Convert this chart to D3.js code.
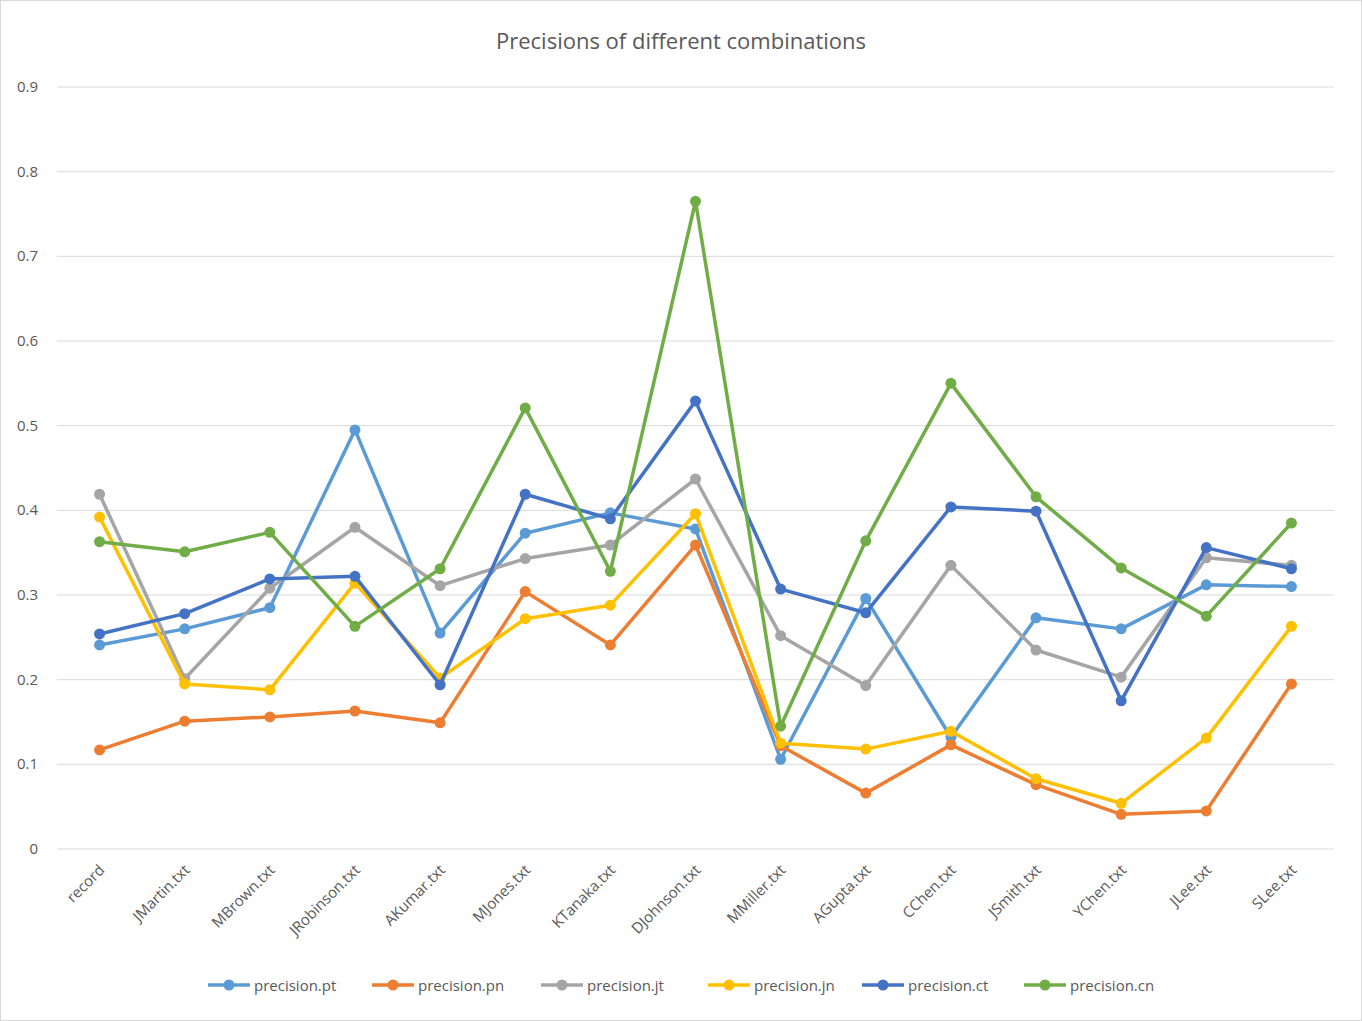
<!DOCTYPE html>
<html>
<head>
<script src="https://cdn.jsdelivr.net/npm/d3@7"></script>
<style>
  body { margin: 0; background: #fff; }
  text { font-family: "Open Sans", sans-serif; fill: #595959; }
</style>
</head>
<body>
<svg id="chart" width="1362" height="1021"></svg>
<script>
var categories = ["record","JMartin.txt","MBrown.txt","JRobinson.txt","AKumar.txt","MJones.txt","KTanaka.txt","DJohnson.txt","MMiller.txt","AGupta.txt","CChen.txt","JSmith.txt","YChen.txt","JLee.txt","SLee.txt"];
var seriesNames = ["precision.pt","precision.pn","precision.jt","precision.jn","precision.ct","precision.cn"];
var seriesColors = ["#5B9BD5","#ED7D31","#A5A5A5","#FFC000","#4472C4","#70AD47"];
var pt = [0.241,0.26,0.285,0.495,0.255,0.373,0.397,0.378,0.106,0.296,0.132,0.273,0.26,0.312,0.31];
var pn = [0.117,0.151,0.156,0.163,0.149,0.304,0.241,0.359,0.122,0.066,0.123,0.076,0.041,0.045,0.195];
var jt = [0.419,0.201,0.308,0.38,0.311,0.343,0.359,0.437,0.252,0.193,0.335,0.235,0.203,0.344,0.335];
var jn = [0.392,0.195,0.188,0.314,0.202,0.272,0.288,0.396,0.125,0.118,0.139,0.083,0.054,0.131,0.263];
var ct = [0.254,0.278,0.319,0.322,0.194,0.419,0.39,0.529,0.307,0.279,0.404,0.399,0.175,0.356,0.331];
var cn = [0.363,0.351,0.374,0.263,0.331,0.521,0.328,0.765,0.145,0.364,0.55,0.416,0.332,0.275,0.385];
var yTicks = [0,0.1,0.2,0.3,0.4,0.5,0.6,0.7,0.8,0.9];
var allSeries = [pt,pn,jt,jn,ct,cn];

var svg = d3.select("#chart");
svg.append("rect").attr("x",0.5).attr("y",0.5).attr("width",1361).attr("height",1020)
  .attr("fill","#fff").attr("stroke","#d9d9d9");

var plotL = 57, plotR = 1334, plotT = 87, plotB = 849;
var x = d3.scalePoint().domain(categories).range([plotL, plotR]).padding(0.5);
var y = d3.scaleLinear().domain([0, 0.9]).range([plotB, plotT]);

svg.append("text").attr("x",681).attr("y",49).attr("text-anchor","middle")
  .style("font-size","22px").text("Precisions of different combinations");

// grid
svg.append("g").selectAll("line").data(yTicks).join("line")
  .attr("x1",plotL).attr("x2",plotR)
  .attr("y1",d=>y(d)).attr("y2",d=>y(d))
  .attr("stroke","#d9d9d9").attr("stroke-width",1);

svg.append("g").selectAll("text").data(yTicks).join("text")
  .attr("x",38).attr("y",d=>y(d)+5).attr("text-anchor","end")
  .style("font-size","15px").text(d=>+d.toFixed(1));

svg.append("g").selectAll("text").data(categories).join("text")
  .attr("text-anchor","end").style("font-size","15px")
  .attr("transform",d=>"translate("+(x(d)+6)+","+(plotB+22)+") rotate(-45)")
  .text(d=>d);

var line = d3.line().x((d,i)=>x(categories[i])).y(d=>y(d));
allSeries.forEach(function(s, k){
  var g = svg.append("g");
  g.append("path").datum(s).attr("d",line).attr("fill","none")
    .attr("stroke",seriesColors[k]).attr("stroke-width",3.5).attr("stroke-linejoin","round");
  g.selectAll("circle").data(s).join("circle")
    .attr("cx",(d,i)=>x(categories[i])).attr("cy",d=>y(d)).attr("r",5.5)
    .attr("fill",seriesColors[k]);
});

// legend
var legX = [208,372,541,708,862,1024];
seriesNames.forEach(function(n,k){
  var g = svg.append("g").attr("transform","translate("+legX[k]+",985)");
  g.append("line").attr("x1",0).attr("x2",42).attr("stroke",seriesColors[k]).attr("stroke-width",3.5);
  g.append("circle").attr("cx",21).attr("r",5.5).attr("fill",seriesColors[k]);
  g.append("text").attr("x",46).attr("y",6).style("font-size","15px").text(n);
});
</script>
</body>
</html>
